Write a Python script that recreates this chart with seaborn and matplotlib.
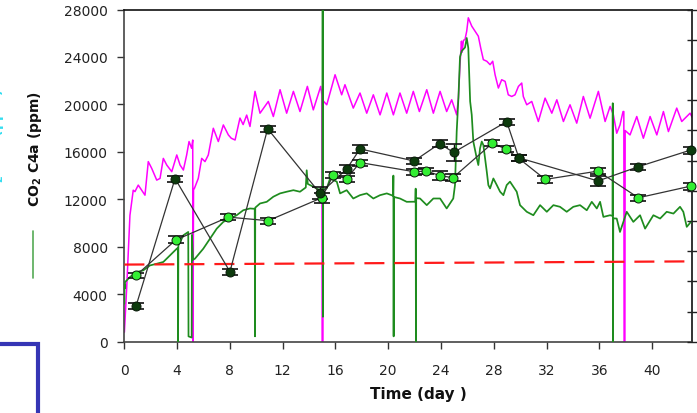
import matplotlib
matplotlib.use("Agg")
import matplotlib.pyplot as plt
from matplotlib.lines import Line2D
import seaborn as sns
import pandas as pd

# ---------------- data ----------------
# magenta CO2 trace (day, ppm)
mag_day = [0.0, 0.08, 0.17, 0.42, 0.67, 0.80, 1.05, 1.31, 1.56, 1.81, 2.07, 2.45, 2.70, 2.95,
           3.21, 3.59, 3.97, 4.22, 4.47, 4.72, 4.90, 5.10, 5.18, 5.20, 5.24, 5.30, 5.60, 5.86,
           6.11, 6.36, 6.74, 7.12, 7.50, 7.88, 8.10, 8.39, 8.76, 9.00, 9.27, 9.52, 9.90, 10.28,
           10.91, 11.29, 11.80, 12.30, 12.81, 13.31, 13.87, 14.32, 14.88, 14.97, 14.99, 15.05,
           15.07, 15.34, 15.97, 16.47, 16.72, 17.35, 17.86, 18.37, 18.87, 19.38, 19.89, 20.39,
           20.89, 21.40, 21.90, 22.36, 22.92, 23.42, 23.93, 24.43, 24.81, 25.19, 25.32, 25.44,
           25.55, 25.60, 25.70, 25.82, 25.95, 26.07, 26.33, 26.58, 26.83, 27.01, 27.21, 27.47,
           27.72, 27.92, 28.10, 28.35, 28.60, 28.86, 29.10, 29.36, 29.61, 29.87, 30.12, 30.24,
           30.50, 30.88, 31.38, 31.89, 32.40, 32.78, 33.28, 33.78, 34.29, 34.79, 35.30, 35.93,
           36.44, 36.82, 37.07, 37.32, 37.57, 37.80, 37.86, 37.88, 37.94, 37.96, 38.33, 38.84,
           39.34, 39.85, 40.36, 40.86, 41.24, 41.87, 42.25, 42.88, 43.05]
mag_ppm = [800, 2500, 4450, 10650, 12770, 12650, 13200, 12770, 12350, 15180, 14610, 13620, 13760, 15450,
           14890, 14330, 15740, 14890, 14470, 15740, 16870, 16300, 17000, 0, 12900, 12900, 13760, 15450,
           15180, 15740, 17990, 16870, 18270, 17430, 17150, 17000, 18850, 18300, 19100, 18140, 21100, 19260,
           20250, 18980, 21240, 19260, 21100, 19400, 21520, 19540, 21520, 20800, 0, 0,
           20300, 19970, 22500, 20810, 21660, 19690, 20960, 19260, 20810, 19120, 20960, 19120,
           20960, 19260, 21100, 19400, 21240, 19260, 21100, 19400, 20390, 19120, 20530, 23350,
           25330, 24400, 25400, 25470, 26180, 27300, 26600, 26180, 25750, 24760, 23770, 23640,
           23350, 23640, 22500, 21380, 22080, 21940, 20810, 20670, 20810, 21520, 21800, 20670,
           19970, 20250, 18560, 20530, 19260, 20390, 18560, 19970, 18420, 20670, 18840, 21100,
           18560, 19830, 19120, 17570, 18270, 19400, 19400, 0, 0, 17800, 17430, 18980,
           17150, 18980, 17430, 19400, 17710, 19690, 18560, 19260, 18900]

# green CO2 C4a trace (day, ppm)
grn_day = [0.0, 0.01, 0.03, 0.05, 0.42, 0.93, 1.43, 1.94, 2.45, 2.95, 3.46, 3.97, 4.05, 4.07,
           4.09, 4.47, 4.84, 4.86, 5.10, 5.12, 5.20, 5.35, 5.98, 6.49, 7.00, 7.50, 8.01, 8.51,
           9.01, 9.52, 9.88, 9.90, 9.92, 10.28, 10.79, 11.29, 11.80, 12.30, 12.81, 13.31, 13.75,
           13.82, 13.90, 14.32, 14.83, 15.01, 15.03, 15.05, 15.07, 15.34, 15.59, 16.10, 16.35,
           16.85, 17.35, 17.86, 18.37, 18.87, 19.38, 19.89, 20.37, 20.39, 20.41, 20.43, 20.89,
           21.40, 22.06, 22.08, 22.10, 22.12, 22.41, 22.92, 23.42, 23.93, 24.43, 24.93, 25.06,
           25.19, 25.32, 25.44, 25.57, 25.82, 25.95, 26.07, 26.21, 26.33, 26.45, 26.71, 26.83,
           26.96, 27.09, 27.21, 27.34, 27.47, 27.59, 27.72, 27.97, 28.23, 28.48, 28.73, 28.98,
           29.23, 29.74, 29.99, 30.50, 31.00, 31.51, 32.02, 32.52, 33.02, 33.53, 34.03, 34.54,
           35.05, 35.43, 35.81, 36.06, 36.31, 36.82, 37.00, 37.02, 37.04, 37.06, 37.32, 37.57,
           38.08, 38.58, 39.09, 39.47, 40.10, 40.61, 41.11, 41.62, 42.12, 42.37, 42.63, 43.05]
grn_ppm = [3200, 4800, 4500, 5030, 5450, 5870, 6010, 6430, 6570, 6720, 7280, 7840, 7900, 0,
           8100, 8970, 9250, 450, 350, 9000, 6900, 7000, 7840, 8690, 9530, 10100, 10380, 10660,
           11080, 11230, 11200, 450, 11300, 11650, 11790, 12220, 12500, 12640, 12770, 12640, 13000,
           14450, 13300, 13060, 12770, 12600, 28000, 2100, 12800, 12920, 13760, 13490, 12500,
           12770, 12070, 12350, 12500, 12070, 12350, 12500, 12300, 14000, 450, 12200, 12070,
           11790, 11800, 12900, 0, 12100, 12070, 11510, 12070, 12070, 11230, 12070, 13200,
           17720, 20530, 24000, 24500, 24800, 25600, 24750, 20250, 19120, 16870, 15460, 14890,
           16300, 16870, 16580, 15460, 14330, 13200, 12920, 13760, 13200, 12640, 12350, 13200,
           13490, 12640, 11510, 10950, 10660, 11510, 10950, 11510, 11370, 10950, 11370, 11510,
           11080, 11790, 11230, 11790, 10520, 10660, 10600, 20100, 0, 10400, 10380, 9250,
           10950, 10100, 10660, 9530, 10660, 10380, 10950, 10800, 11370, 10950, 9680, 10240]

# red dashed reference line
ref_day = [0.0, 43.05]
ref_ppm = [6500, 6770]

# dark green measured points
dark_day = [0.88, 3.84, 8.0, 10.86, 14.83, 16.85, 17.86, 21.96, 23.9, 24.95, 28.98, 29.9, 35.9, 38.96, 42.92]
dark_ppm = [3000, 13750, 5900, 17950, 12500, 14550, 16250, 15230, 16700, 15950, 18550, 15500, 13550, 14750, 16150]
dark_err = [250, 250, 250, 250, 500, 350, 350, 250, 300, 700, 250, 250, 450, 250, 300]

# light green measured points
light_day = [0.88, 3.9, 7.88, 10.9, 14.96, 15.84, 16.85, 17.86, 21.96, 22.87, 23.93, 24.9,
             27.9, 28.9, 29.9, 31.9, 35.9, 38.96, 42.92]
light_ppm = [5580, 8580, 10500, 10200, 12130, 14040, 13750, 15100, 14330, 14380, 14000, 13820,
             16730, 16250, 15450, 13680, 14380, 12130, 13110]
light_err = [250, 300, 250, 250, 400, 250, 250, 250, 250, 250, 400, 300, 250, 250, 250, 300, 250, 250, 300]

x_ticks = [0, 4, 8, 12, 16, 20, 24, 28, 32, 36, 40]
y_ticks = [0, 4000, 8000, 12000, 16000, 20000, 24000, 28000]

# ---------------- plotting ----------------
sns.set_style("ticks")
plt.rcParams["font.family"] = ["DejaVu Sans"]

fig = plt.figure(figsize=(6.97, 4.14), dpi=100)
ax = fig.add_axes([124.4 / 697, (414 - 342.7) / 414, (692.3 - 124.4) / 697, (342.7 - 10.5) / 414])

mag = pd.DataFrame({"day": mag_day, "ppm": mag_ppm})
grn = pd.DataFrame({"day": grn_day, "ppm": grn_ppm})
sns.lineplot(data=mag, x="day", y="ppm", ax=ax, sort=False, estimator=None,
             color="#ff00ff", lw=1.1, zorder=2)
sns.lineplot(data=grn, x="day", y="ppm", ax=ax, sort=False, estimator=None,
             color="#1e8c1e", lw=1.25, zorder=3)
sns.lineplot(x=ref_day, y=ref_ppm, ax=ax, color="#ff1a1a", lw=1.6, zorder=4,
             dashes=False, linestyle=(0, (9, 4.5)))

for d, p, e, fc in [(light_day, light_ppm, light_err, "#33ee33"),
                    (dark_day, dark_ppm, dark_err, "#0d3b0d")]:
    sns.lineplot(x=d, y=p, ax=ax, sort=False, estimator=None, color="#333333", lw=0.9, zorder=5)
    ax.errorbar(d, p, yerr=e, fmt="none", ecolor="#111111", elinewidth=1.0, capsize=5.5,
                capthick=1.2, zorder=6)
    sns.scatterplot(x=d, y=p, ax=ax, color=fc, edgecolor="#0a1a0a", linewidth=0.7,
                    s=42, zorder=7, clip_on=False)

ax.set_xlim(0, 43.05)
ax.set_ylim(0, 28000)
ax.set_xticks(x_ticks)
ax.set_yticks(y_ticks)
ax.set_xticklabels([str(v) for v in x_ticks])
ax.set_yticklabels([str(v) for v in y_ticks])
ax.set_xlabel("")
ax.set_ylabel("")
ax.tick_params(axis="both", direction="out", length=5, width=1, colors="#333333",
               labelsize=10, labelcolor="#222222")
ax.tick_params(axis="y", pad=7)
ax.tick_params(axis="x", pad=10)
for s in ["left", "bottom"]:
    ax.spines[s].set_color("#444444")
    ax.spines[s].set_linewidth(1.2)
for s in ["top", "right"]:
    ax.spines[s].set_visible(True)
    ax.spines[s].set_color("#111111")
    ax.spines[s].set_linewidth(1.2)

tw = ax.twinx()
tw.set_ylim(0, 11)
tw.set_yticks(range(12))
tw.set_yticklabels([])
tw.tick_params(axis="y", direction="inout", length=7, width=1, colors="#222222")
for s in tw.spines.values():
    s.set_visible(False)

# labels and cropped decorations
fig.text(418 / 697, 1 - 395 / 414, "Time (day )", ha="center", va="center",
         fontsize=11, fontweight="bold", color="#111111")
fig.text(35 / 697, 1 - 149 / 414, "CO$_\\mathbf{2}$ C4a (ppm)", rotation=90, ha="center",
         va="center", fontsize=10, fontweight="bold", color="#111111")
fig.text(-3.2 / 697, 1 - 147 / 414, "CO$_\\mathbf{2}$ C4b (ppm)", rotation=90, ha="center",
         va="center", fontsize=10, fontweight="bold", color="#33ddf0")
fig.add_artist(Line2D([33 / 697, 33 / 697], [1 - 232 / 414, 1 - 279 / 414],
                      color="#55aa55", lw=1.2))
fig.add_artist(Line2D([0, 38 / 697, 38 / 697], [1 - 345 / 414, 1 - 345 / 414, 0],
                      color="#3535b5", lw=3, solid_joinstyle="miter"))

fig.savefig("out.png", dpi=100)
